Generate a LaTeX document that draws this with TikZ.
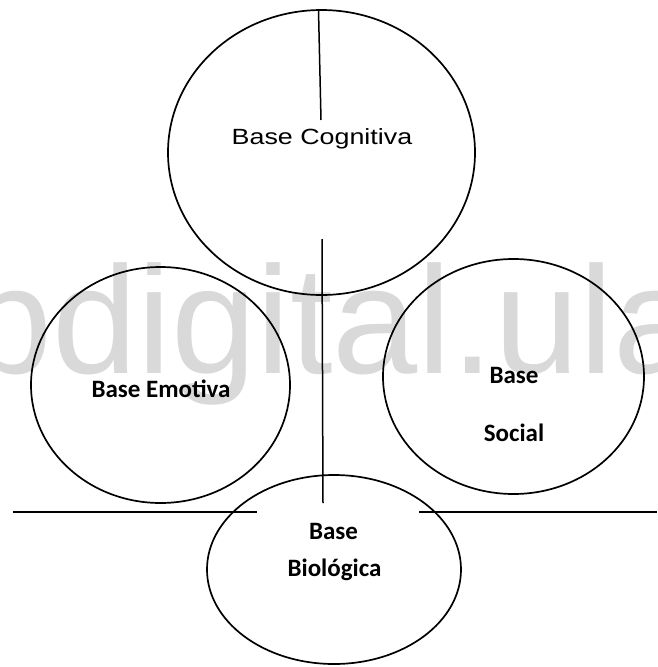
\documentclass[tikz,border=0pt]{standalone}
\usepackage{fontspec}
\setmainfont{Liberation Sans}
\newfontfamily\calib{Carlito}
\newfontfamily\arialf{Liberation Sans}
\usetikzlibrary{shapes.geometric}
\definecolor{wmgray}{RGB}{217,217,217}
\tikzset{
  basebox/.style={draw=black, line width=1.7pt, ellipse, inner sep=0pt},
  lbl/.style={font=\calib\bfseries\fontsize{25}{25}\selectfont, inner sep=0pt, anchor=base, text=black},
  rule/.style={draw=black, line width=1.5pt}
}
\begin{document}
\begin{tikzpicture}[x=1pt,y=-1pt]
\useasboundingbox (0,0) rectangle (657,667);
% watermark
\begin{scope}
\clip (0,0) rectangle (657,667);
\node[anchor=base west, inner sep=0pt, text=wmgray, font=\arialf\fontsize{153}{153}\selectfont] (wm) at (-33,373) {bdigital.ula};
\end{scope}
% ellipses
\node[basebox, minimum width=307pt, minimum height=285pt] (cog) at (321.5,152.5) {};
\node[basebox, minimum width=259pt, minimum height=236pt] (emo) at (160.5,385) {};
\node[basebox, minimum width=261pt, minimum height=235pt] (soc) at (513.5,376.5) {};
\node[basebox, minimum width=254pt, minimum height=189pt] (bio) at (334,569.5) {};
% texts
\node[inner sep=0pt, anchor=base, font=\arialf\fontsize{22}{22}\selectfont] (tcog) at (322,144) {\scalebox{1.22}[1]{Base Cognitiva}};
\node[lbl] (temo) at (161,397) {Base Emotiva};
\node[lbl] (tsoc1) at (514,383) {Base};
\node[lbl] (tsoc2) at (514,441) {Social};
\node[lbl] (tbio1) at (333.5,539) {Base};
\node[lbl] (tbio2) at (334.5,576) {Biológica};
% lines
\coordinate (v1a) at (318.5,10);
\coordinate (v1b) at (321,120);
\coordinate (v2a) at (322,239);
\coordinate (v2b) at (323,503);
\coordinate (h1a) at (13,512);
\coordinate (h1b) at (257,512);
\coordinate (h2a) at (419,512);
\coordinate (h2b) at (657,512);
\draw[rule] (v1a) -- (v1b);
\draw[rule] (v2a) -- (v2b);
\draw[rule] (h1a) -- (h1b);
\draw[rule] (h2a) -- (h2b);
\end{tikzpicture}
\end{document}
